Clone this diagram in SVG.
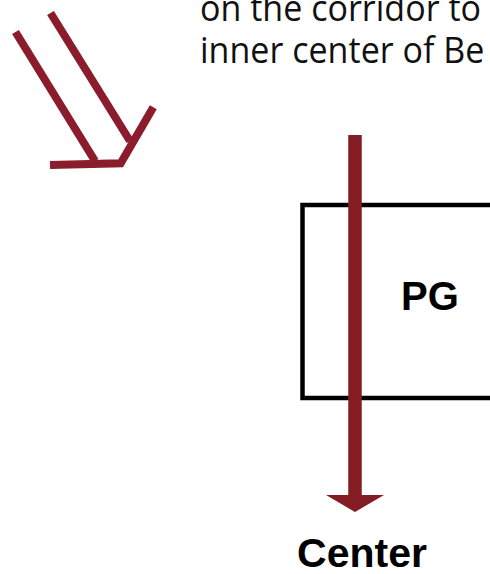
<svg xmlns="http://www.w3.org/2000/svg" width="490" height="574" viewBox="0 0 490 574">
<style>
.lbl{font-family:"Liberation Sans",Arial,sans-serif;font-weight:bold;fill:#000;text-anchor:middle}
.note{font-family:"Open Sans","Noto Sans",sans-serif;font-size:37px;fill:#111}
.red{stroke:#8A1C2B;stroke-width:8;fill:none}
</style>
<rect width="490" height="574" fill="#fff"/>
<g id="note" transform="translate(200,0) scale(0.92,1)">
<text class="note" x="0" y="20.5">on the corridor to</text>
<text class="note" x="0" y="63">inner center of Be</text>
</g>
<g id="pg">
<rect x="302.5" y="205" width="200" height="193" fill="#fff" stroke="#000" stroke-width="4.5"/>
<text class="lbl" x="430" y="310" font-size="40">PG</text>
</g>
<g id="center">
<text class="lbl" x="362" y="567" font-size="41">Center</text>
</g>
<g id="connectors">
<line class="red" x1="15.5" y1="32" x2="95" y2="161"/>
<line class="red" x1="50.5" y1="13" x2="130" y2="141"/>
<polyline class="red" points="153.3,107.3 120.7,163.3 50,165"/>
<line x1="355" y1="135" x2="355" y2="497" stroke="#841C23" stroke-width="13.5"/>
<polygon points="326,495 384,495 355,512" fill="#841C23"/>
</g>
</svg>
